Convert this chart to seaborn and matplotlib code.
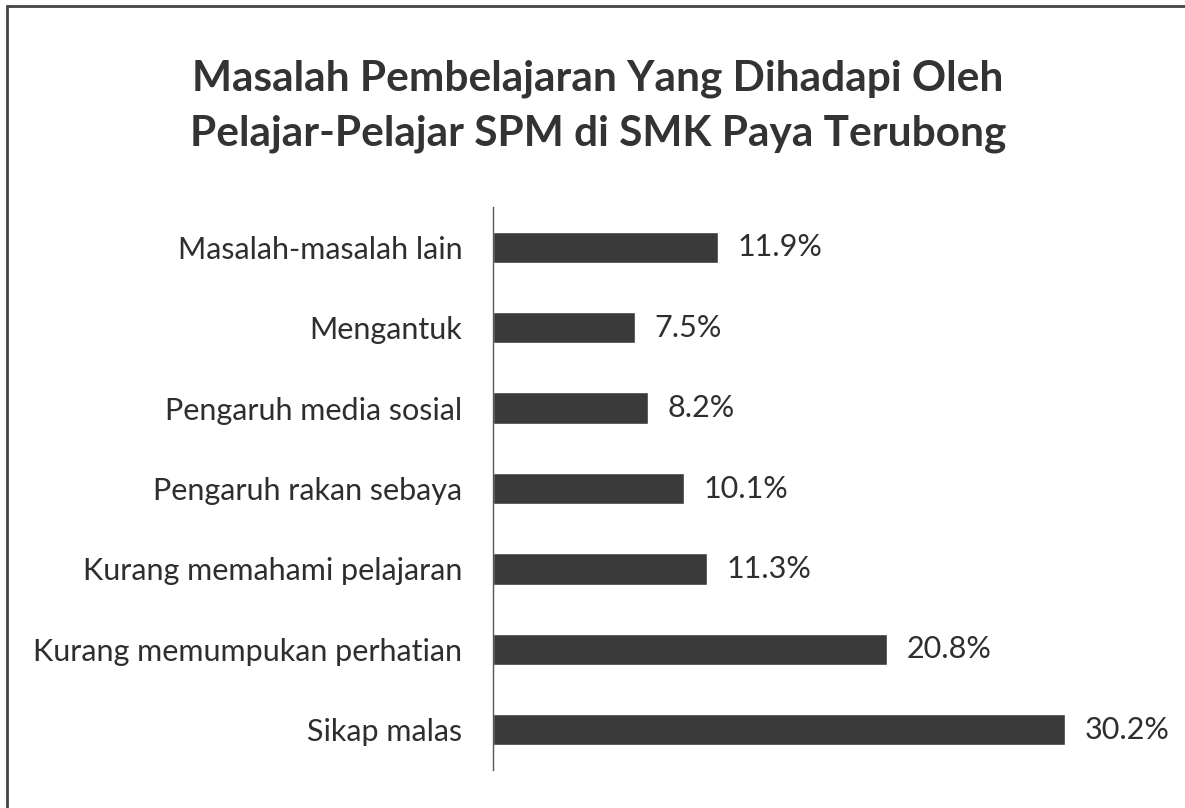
import matplotlib
matplotlib.use("Agg")
import matplotlib.pyplot as plt
import seaborn as sns
import pandas as pd
from matplotlib.lines import Line2D

categories = [
    "Masalah-masalah lain",
    "Mengantuk",
    "Pengaruh media sosial",
    "Pengaruh rakan sebaya",
    "Kurang memahami pelajaran",
    "Kurang memumpukan perhatian",
    "Sikap malas",
]
values = [11.9, 7.5, 8.2, 10.1, 11.3, 20.8, 30.2]
value_labels = ["11.9%", "7.5%", "8.2%", "10.1%", "11.3%", "20.8%", "30.2%"]
title = "Masalah Pembelajaran Yang Dihadapi Oleh\nPelajar-Pelajar SPM di SMK Paya Terubong"

df = pd.DataFrame({"cat": categories, "val": values})

sns.set_theme(style="white")
plt.rcParams["font.family"] = ["Lato", "DejaVu Sans"]

W, H = 1185, 808
fig = plt.figure(figsize=(W / 100, H / 100), dpi=100)
ax = fig.add_axes([493 / W, 1 - 770 / H, (1175 - 493) / W, (770 - 207) / H])

sns.barplot(data=df, x="val", y="cat", order=categories, color="#3a3a3a",
            saturation=1, width=0.39, ax=ax, orient="h")

ax.set_xlim(0, 36)
ax.set_ylim(6.5, -0.5)
ax.set_xlabel("")
ax.set_ylabel("")
ax.set_xticks([])
for s in ["top", "right", "bottom"]:
    ax.spines[s].set_visible(False)
ax.spines["left"].set_color("#555555")
ax.spines["left"].set_linewidth(1.0)
ax.tick_params(axis="y", length=0, pad=22, labelsize=22, labelcolor="#2e2e2e")

for i, (v, lab) in enumerate(zip(values, value_labels)):
    ax.annotate(lab, xy=(v, i), xytext=(14, 0), textcoords="offset points",
                va="center", ha="left", fontsize=22, color="#2e2e2e")

fig.text(598 / W, 1 - 106 / H, title, ha="center", va="center",
         fontsize=30.5, fontweight="bold", color="#333333", linespacing=1.52)

# border of the scanned figure (left and top)
fig.add_artist(Line2D([7 / W, 7 / W], [0, 1 - 6 / H], transform=fig.transFigure,
                      color="#444444", lw=2))
fig.add_artist(Line2D([7 / W, 1], [1 - 6 / H, 1 - 6 / H], transform=fig.transFigure,
                      color="#444444", lw=2))

fig.savefig("out.png", dpi=100, facecolor="white")
